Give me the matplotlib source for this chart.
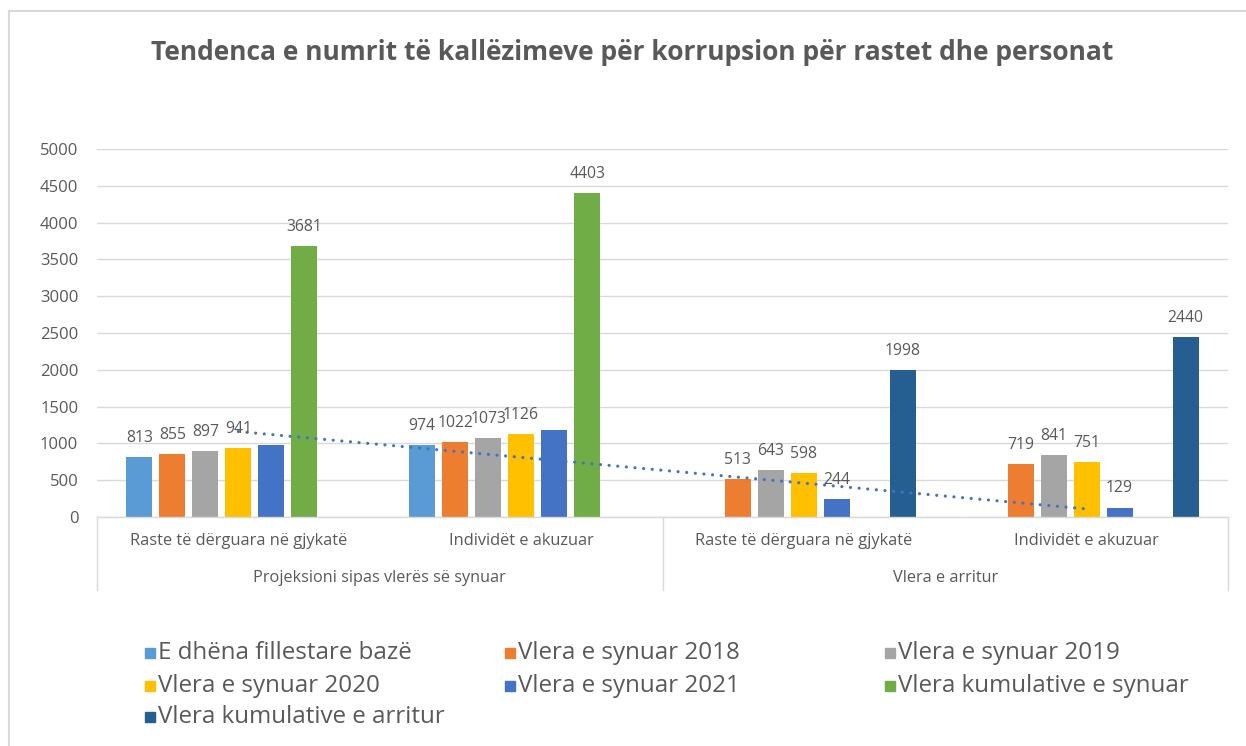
import matplotlib
matplotlib.use("Agg")
import matplotlib.pyplot as plt
import numpy as np
from matplotlib.patches import Rectangle
from matplotlib.lines import Line2D
from matplotlib.transforms import blended_transform_factory

# ---------------- data ----------------
title = "Tendenca e numrit të kallëzimeve për korrupsion për rastet dhe personat"
inner_labels = ["Raste të dërguara në gjykatë", "Individët e akuzuar",
                "Raste të dërguara në gjykatë", "Individët e akuzuar"]
outer_labels = ["Projeksioni sipas vlerës së synuar", "Vlera e arritur"]
series_names = ["E dhëna fillestare bazë", "Vlera e synuar 2018", "Vlera e synuar 2019",
                "Vlera e synuar 2020", "Vlera e synuar 2021", "Vlera kumulative e synuar",
                "Vlera kumulative e arritur"]
baseline = [813, 974, None, None]
target_2018 = [855, 1022, 513, 719]
target_2019 = [897, 1073, 643, 841]
target_2020 = [941, 1126, 598, 751]
target_2021 = [985, 1182, 244, 129]
cumulative_target = [3681, 4403, None, None]
cumulative_achieved = [None, None, 1998, 2440]
label_2021 = [False, False, True, True]
yticks = list(range(0, 5001, 500))

series_values = [baseline, target_2018, target_2019, target_2020, target_2021,
                 cumulative_target, cumulative_achieved]
series_colors = ["#5B9BD5", "#ED7D31", "#A5A5A5", "#FFC000", "#4472C4", "#70AD47", "#255E91"]

FONT = "Open Sans"
TXT = "#595959"
GRID = "#D9D9D9"

W, H = 1246, 746
fig = plt.figure(figsize=(W / 100, H / 100), dpi=100)
fig.patch.set_facecolor("white")

def fx(px):
    return px / W

def fy(py):
    return 1 - py / H

# chart-area border (left & top visible)
fig.add_artist(Line2D([fx(9), fx(9)], [fy(11), 0], color=GRID, lw=1.5, transform=fig.transFigure))
fig.add_artist(Line2D([fx(9), 1], [fy(11), fy(11)], color=GRID, lw=1.5, transform=fig.transFigure))

ax = fig.add_axes([fx(97), fy(517), fx(1228) - fx(97), fy(149) - fy(517)])
ax.set_xlim(-0.5, 3.5)
ax.set_ylim(0, 5000)

n = len(series_values)
slot = 33 / 283
width = 26 / 283
x = np.arange(len(inner_labels))

for i, (vals, col) in enumerate(zip(series_values, series_colors)):
    off = (i - (n - 1) / 2) * slot
    for j, v in enumerate(vals):
        if v is None:
            continue
        ax.bar(x[j] + off, v, width=width, color=col, zorder=2)
        show = True
        if i == 4 and not label_2021[j]:
            show = False
        if show:
            ax.annotate(str(v), (x[j] + off, v), xytext=(0, 8), textcoords="offset points",
                        ha="center", va="bottom", fontsize=11.3, color=TXT, family=FONT, zorder=4)

# linear trendline on the 2021 series
coef = np.polyfit(x, np.array(target_2021, dtype=float), 1)
ax.plot(x, np.polyval(coef, x), color="#4472C4", lw=2.3, linestyle=(0, (0.01, 2.7)),
        dash_capstyle="round", zorder=3)

ax.set_yticks(yticks)
ax.set_yticklabels([str(t) for t in yticks], family=FONT, fontsize=12, color=TXT)
ax.tick_params(axis="y", length=0, pad=13.5)
ax.set_xticks([])
ax.grid(axis="y", color=GRID, lw=1, zorder=0)
ax.set_axisbelow(True)
for s in ["top", "right", "left"]:
    ax.spines[s].set_visible(False)
ax.spines["bottom"].set_color(GRID)
ax.spines["bottom"].set_linewidth(1)

# multi-level category axis
tr = blended_transform_factory(ax.transData, ax.transAxes)
ybot = -(590 - 517) / 368
for xv in [-0.5, 1.5, 3.5]:
    ax.add_line(Line2D([xv, xv], [0, ybot], color=GRID, lw=1, transform=tr, clip_on=False))
for j, lab in enumerate(inner_labels):
    ax.text(x[j], -(541 - 517) / 368, lab, transform=tr, ha="center", va="center",
            fontsize=11.8, color=TXT, family=FONT)
for k, lab in enumerate(outer_labels):
    ax.text(0.5 + 2 * k, -(578 - 517) / 368, lab, transform=tr, ha="center", va="center",
            fontsize=11.7, color=TXT, family=FONT)

# title
fig.text(fx(632), fy(52), title, ha="center", va="center", fontsize=19, fontweight="bold",
         color=TXT, family=FONT)

# legend (row-major like the original)
col_x = [145, 505, 885]
row_y = [653, 686, 717]
for i, (name, col) in enumerate(zip(series_names, series_colors)):
    r, c = divmod(i, 3)
    mx, my = col_x[c], row_y[r]
    fig.add_artist(Rectangle((fx(mx), fy(my + 5)), fx(10), 10 / H, color=col,
                             transform=fig.transFigure))
    fig.text(fx(mx + 13), fy(my), name, ha="left", va="center", fontsize=17.4, color=TXT,
             family=FONT)

fig.savefig("out.png", dpi=100, facecolor="white")
